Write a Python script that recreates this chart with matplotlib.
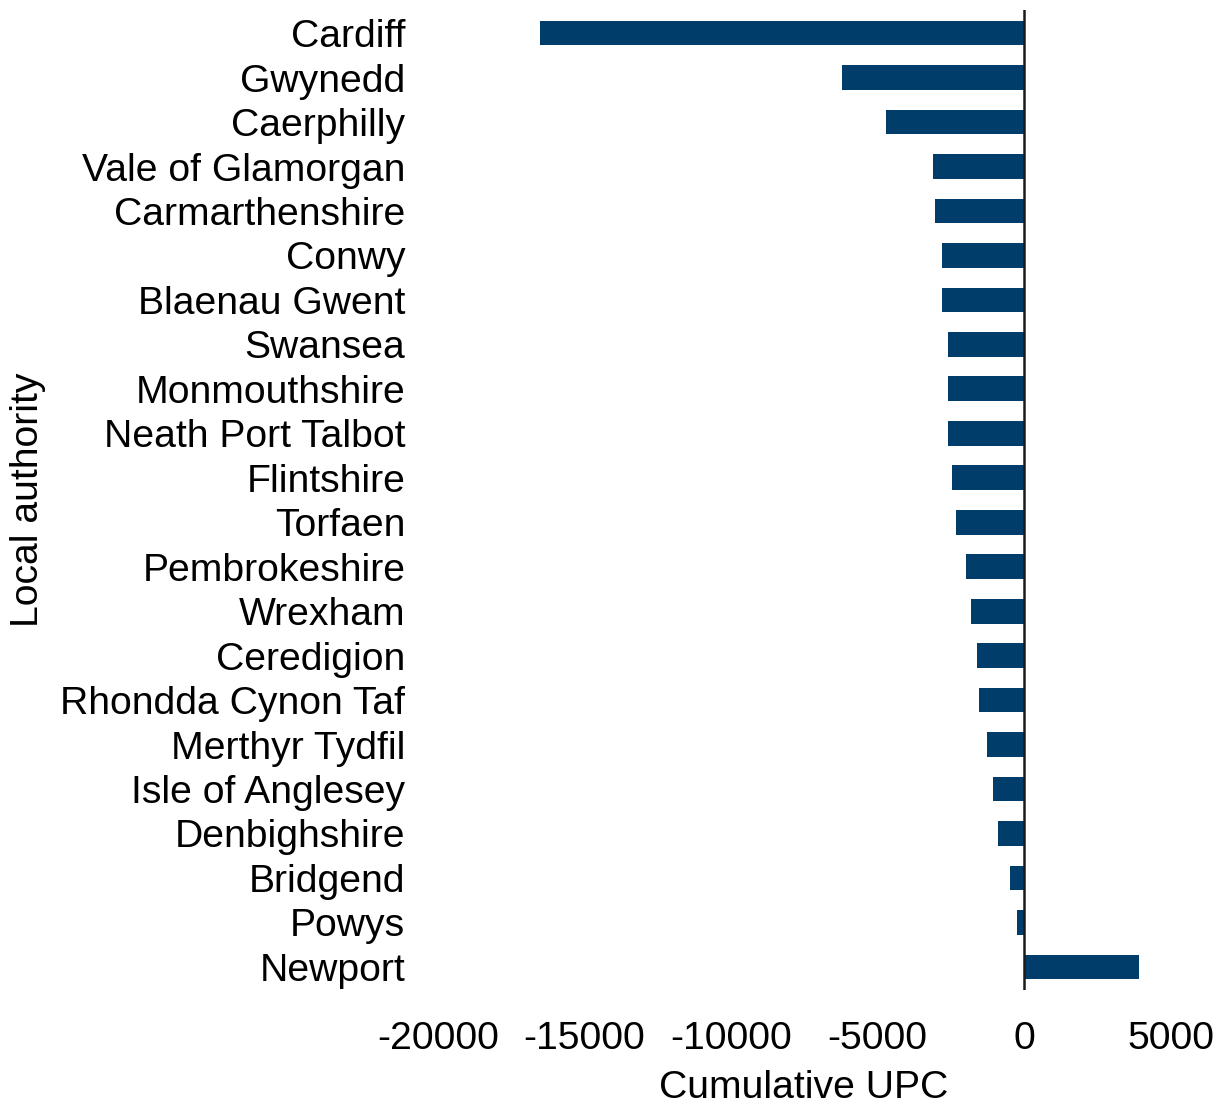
import matplotlib.pyplot as plt

plt.rcParams["font.family"] = ["Liberation Sans", "DejaVu Sans"]

authorities = [
    "Cardiff", "Gwynedd", "Caerphilly", "Vale of Glamorgan", "Carmarthenshire",
    "Conwy", "Blaenau Gwent", "Swansea", "Monmouthshire", "Neath Port Talbot",
    "Flintshire", "Torfaen", "Pembrokeshire", "Wrexham", "Ceredigion",
    "Rhondda Cynon Taf", "Merthyr Tydfil", "Isle of Anglesey", "Denbighshire",
    "Bridgend", "Powys", "Newport",
]
cumulative_upc = [
    -16520, -6200, -4700, -3115, -3040,
    -2800, -2800, -2605, -2585, -2585,
    -2457, -2310, -1980, -1810, -1615,
    -1525, -1255, -1070, -877,
    -468, -229, 3935,
]
x_ticks = [-20000, -15000, -10000, -5000, 0, 5000]

W, H = 1223, 1106
FONT = 28.2
fig = plt.figure(figsize=(W / 100, H / 100), dpi=100)
left, right, top, bottom = 415, 1180, 10, 990
ax = fig.add_axes([left / W, 1 - bottom / H, (right - left) / W, (bottom - top) / H])

ypos = list(range(len(authorities)))
ax.barh(ypos, cumulative_upc, height=0.555, color="#003d6b")
ax.axvline(0, color="#1a1a1a", linewidth=1.8)

ax.set_xlim(-20785, 5324)
ax.set_ylim(21.52, -0.52)
ax.set_xticks(x_ticks)
ax.set_xticklabels([str(t) for t in x_ticks])
ax.set_yticks(ypos)
ax.set_yticklabels(authorities)
ax.tick_params(axis="both", length=0, labelsize=FONT, colors="black")
ax.tick_params(axis="y", pad=7)
ax.tick_params(axis="x", pad=22)
for side in ax.spines.values():
    side.set_visible(False)

ax.set_xlabel("Cumulative UPC", fontsize=FONT)
ax.set_ylabel("Local authority", fontsize=FONT)
ax.xaxis.set_label_coords((804 - left) / (right - left), -(1088 - bottom) / (bottom - top))
ax.xaxis.label.set_va("center")
ax.yaxis.set_label_coords(-(left - 28) / (right - left), (bottom - 500) / (bottom - top))
ax.yaxis.label.set_va("center")

fig.savefig("out.png", dpi=100)
